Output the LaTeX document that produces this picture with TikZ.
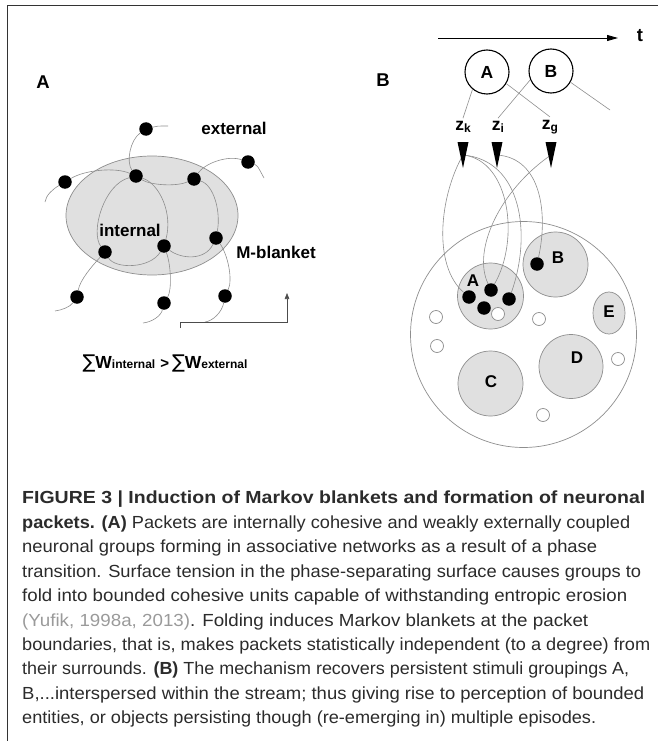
\documentclass[tikz,border=0pt]{standalone}
\usepackage{fontspec}
\setmainfont{Liberation Sans}
\newfontfamily\symfont{DejaVu Sans}
\usetikzlibrary{arrows.meta,shapes.geometric}
\pgfdeclarelayer{bg}\pgfdeclarelayer{fg}
\pgfsetlayers{bg,main,fg}
\definecolor{pk}{HTML}{E0E0E0}
\definecolor{ln}{HTML}{8E8E8E}
\definecolor{txt}{HTML}{2B2B2B}
\definecolor{cite}{HTML}{9A9A9A}
\newcommand\capline[2]{\resizebox{#1pt}{\height}{#2}}
\begin{document}
\begin{tikzpicture}[x=1pt,y=-1pt,
  dot/.style={circle,fill=black,inner sep=0pt,minimum size=13.5pt},
  hole/.style={circle,draw=ln,fill=white,line width=0.7pt,inner sep=0pt,minimum size=13pt},
  packet/.style={circle,draw=ln,fill=pk,line width=0.7pt,inner sep=0pt},
  wire/.style={draw=ln,line width=0.6pt},
  lbl/.style={font=\fontsize{17}{17}\selectfont\bfseries,inner sep=0pt},
  plbl/.style={font=\fontsize{18.5}{18.5}\selectfont\bfseries,inner sep=0pt},
  zlbl/.style={font=\fontsize{17.5}{17.5}\selectfont\bfseries,inner sep=3pt},
  capln/.style={anchor=base west,inner sep=0pt,font=\fontsize{17.5}{17.5}\selectfont,text=txt},
  trig/.style={fill=black}
]
\useasboundingbox (0,0) rectangle (658,741);
% frame
\draw[line width=0.9pt,color=black!80] (7,741) -- (7,5) -- (658,5);

% ---------------- Panel A ----------------
\node[plbl] (labA) at (43,82) {A};
\begin{pgfonlayer}{bg}
\node[ellipse,draw=ln,fill=pk,line width=0.7pt,minimum width=172pt,minimum height=119pt,inner sep=0pt] (blob) at (152,215.5) {};
\end{pgfonlayer}
\begin{pgfonlayer}{fg}
\node[dot] (d1) at (146,129) {};
\node[dot] (d2) at (136,176) {};
\node[dot] (d3) at (194,179) {};
\node[dot] (d4) at (248,162) {};
\node[dot] (d5) at (65,182) {};
\node[dot] (d6) at (105,252) {};
\node[dot] (d7) at (164,246) {};
\node[dot] (d8) at (216,238) {};
\node[dot] (d9) at (77,297) {};
\node[dot] (d10) at (164,303) {};
\node[dot] (d11) at (225,296) {};
\end{pgfonlayer}
\coordinate (e1) at (168,126);
\coordinate (e4) at (264,178);
\coordinate (e5) at (45,202);
\coordinate (e9) at (55,311);
\coordinate (e10) at (143,323);
\coordinate (e11) at (205,322);
\draw[wire] (d1) .. controls (157,126) .. (e1);
\draw[wire] (d1) .. controls (130,140) and (126,162) .. (d2);
\draw[wire] (d5) .. controls (85,170) and (115,167) .. (d2);
\draw[wire] (d5) .. controls (53,189) and (46,195) .. (e5);
\draw[wire] (d2) .. controls (150,185) and (176,187) .. (d3);
\draw[wire] (d3) .. controls (205,163) and (228,155) .. (d4);
\draw[wire] (d4) .. controls (257,165) .. (e4);
\draw[wire] (d2) .. controls (104,184) and (90,232) .. (d6);
\draw[wire] (d2) .. controls (160,184) and (173,214) .. (d7);
\draw[wire] (d6) .. controls (115,269) and (150,269) .. (d7);
\draw[wire] (d3) .. controls (214,185) and (221,212) .. (d8);
\draw[wire] (d7) .. controls (181,259) and (205,261) .. (d8);
\draw[wire] (d6) .. controls (92,266) and (80,280) .. (d9);
\draw[wire] (d9) .. controls (70,307) and (62,310) .. (e9);
\draw[wire] (d7) .. controls (171,265) and (172,290) .. (d10);
\draw[wire] (d10) .. controls (161,316) and (152,322) .. (e10);
\draw[wire] (d8) .. controls (228,255) and (233,280) .. (d11);
\draw[wire] (d11) .. controls (222,312) and (213,321) .. (e11);

\node[lbl] (ext) at (234,128) {external};
\node[lbl] (int) at (130,230) {internal};
\node[lbl] (mbl) at (276,252) {M-blanket};
\coordinate (m1) at (180,328);
\coordinate (m2) at (287,293);
\draw[line width=0.6pt,color=black!70,-{Triangle[length=6pt,width=4.5pt]}] (m1) -- ++(0,-6) -| (m2);

\node[inner sep=0pt,anchor=base] (sumw) at (165,368) {{\symfont\fontsize{19}{19}\selectfont ∑}{\fontsize{17.5}{17.5}\selectfont\bfseries W}{\fontsize{12}{12}\selectfont\bfseries internal}\hspace{5pt}{\fontsize{15}{15}\selectfont\bfseries >}\hspace{3pt}{\symfont\fontsize{19}{19}\selectfont ∑}{\fontsize{17.5}{17.5}\selectfont\bfseries W}{\fontsize{12}{12}\selectfont\bfseries external}};

% ---------------- Panel B ----------------
\node[plbl] (labB) at (383,80) {B};
\coordinate (t0) at (438,38);
\coordinate (t1) at (618,38);
\draw[line width=0.9pt,-{Triangle[length=11pt,width=6pt]}] (t0) -- (t1);
\node[plbl] (tl) at (640,36) {t};
\node[circle,draw,line width=1.1pt,minimum size=44pt,inner sep=0pt,font=\fontsize{17.5}{17.5}\selectfont\bfseries] (cA) at (487,72) {A};
\node[circle,draw,line width=1.1pt,minimum size=44pt,inner sep=0pt,font=\fontsize{17.5}{17.5}\selectfont\bfseries] (cB) at (551,71) {B};
\node[zlbl] (zk) at (463,127) {z\raisebox{-2pt}{\fontsize{12}{12}\selectfont k}};
\node[zlbl] (zi) at (498,127) {z\raisebox{-2pt}{\fontsize{12}{12}\selectfont i}};
\node[zlbl] (zg) at (550,127) {z\raisebox{-2pt}{\fontsize{12}{12}\selectfont g}};
\coordinate (bx) at (610,110);
\draw[wire] (cA.230) -- (zk.north);
\draw[wire] (cA.329) -- (zg.north);
\draw[wire] (cB.203) -- (zi.north);
\draw[wire] (cB.330) -- (bx);

\coordinate (tk) at (463,155);
\coordinate (ti) at (497,155);
\coordinate (tg) at (551,155);
\begin{pgfonlayer}{fg}
\fill[trig,shift={(tk)}] (-5.5,-13) -- (5.5,-13) -- (0,13) -- cycle;
\fill[trig,shift={(ti)}] (-5.5,-13) -- (5.5,-13) -- (0,13) -- cycle;
\fill[trig,shift={(tg)}] (-5.5,-13) -- (5.5,-13) -- (0,13) -- cycle;
\end{pgfonlayer}

\begin{pgfonlayer}{bg}
\node[circle,draw=ln,fill=white,line width=0.7pt,minimum size=226pt,inner sep=0pt] (net) at (523.5,334.5) {};
\node[packet,minimum size=66pt] (pA) at (490.5,296) {};
\node[packet,minimum size=65pt] (pB) at (555.5,264.5) {};
\node[packet,minimum size=65pt] (pC) at (490.5,383.5) {};
\node[packet,minimum size=64pt] (pD) at (571,366.5) {};
\node[ellipse,draw=ln,fill=pk,line width=0.7pt,minimum width=32pt,minimum height=42pt,inner sep=0pt] (pE) at (609,313) {};
\end{pgfonlayer}
\node[lbl] (lA) at (473,281) {A};
\node[lbl] (lB) at (558,258) {B};
\node[lbl] (lC) at (491,382) {C};
\node[lbl] (lD) at (577,358) {D};
\node[lbl] (lE) at (609,312) {E};

\begin{pgfonlayer}{fg}
\node[dot] (a1) at (469,297) {};
\node[dot] (a2) at (491,290) {};
\node[dot] (a3) at (509,299) {};
\node[dot] (a4) at (484,308) {};
\node[dot] (bd) at (537,264) {};
\node[hole] (h0) at (498,314) {};
\end{pgfonlayer}
\node[hole] (h1) at (436,317) {};
\node[hole] (h2) at (437,346) {};
\node[hole] (h3) at (539,319) {};
\node[hole] (h4) at (618,359) {};
\node[hole] (h5) at (543,415) {};

\draw[wire] (tk) .. controls (440,195) and (432,265) .. (a1);
\draw[wire] (tk) .. controls (510,160) and (520,240) .. (a2);
\draw[wire] (tk) .. controls (522,160) and (532,235) .. (a3);
\draw[wire] (ti) .. controls (542,158) and (548,215) .. (bd);
\draw[wire] (tg) .. controls (500,190) and (472,250) .. (a2);

% ---------------- Caption ----------------
\node[capln] (c1) at (22,503) {\capline{623}{\bfseries FIGURE 3 | Induction of Markov blankets and formation of neuronal}};
\node[capln] (c2) at (22,528) {\capline{608}{\textbf{packets. (A)} Packets are internally cohesive and weakly externally coupled}};
\node[capln] (c3) at (22,552) {\capline{575}{neuronal groups forming in associative networks as a result of a phase}};
\node[capln] (c4) at (22,577) {\capline{619}{transition. Surface tension in the phase-separating surface causes groups to}};
\node[capln] (c5) at (22,601) {\capline{605}{fold into bounded cohesive units capable of withstanding entropic erosion}};
\node[capln] (c6) at (22,626) {\capline{566}{\textcolor{cite}{(Yufik, 1998a, 2013)}. Folding induces Markov blankets at the packet}};
\node[capln] (c7) at (22,650) {\capline{628}{boundaries, that is, makes packets statistically independent (to a degree) from}};
\node[capln] (c8) at (22,674) {\capline{607}{their surrounds. \textbf{(B)} The mechanism recovers persistent stimuli groupings A,}};
\node[capln] (c9) at (22,699) {\capline{622}{B,...interspersed within the stream; thus giving rise to perception of bounded}};
\node[capln] (c10) at (22,723) {\capline{574}{entities, or objects persisting though (re-emerging in) multiple episodes.}};
\end{tikzpicture}
\end{document}
